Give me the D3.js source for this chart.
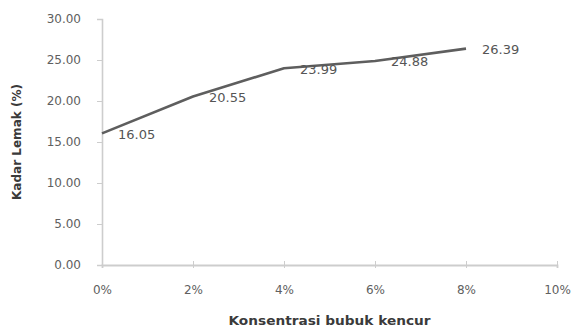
<!DOCTYPE html>
<html>
<head>
<meta charset="utf-8">
<script src="https://cdn.jsdelivr.net/npm/d3@7"></script>
<style>
  html, body { margin: 0; padding: 0; background: #fff; }
  svg { display: block; }
  text { font-family: "DejaVu Sans", sans-serif; }
</style>
</head>
<body>
<svg id="chart" width="573" height="327"></svg>
<script>
// Fat content (%) versus concentration of kencur powder
const concentrations = [0, 0.02, 0.04, 0.06, 0.08];
const fatValues = [16.05, 20.55, 23.99, 24.88, 26.39];
const xTickValues = [0, 0.02, 0.04, 0.06, 0.08, 0.10];
const yTickValues = [0, 5, 10, 15, 20, 25, 30];
const xTitle = "Konsentrasi bubuk kencur";
const yTitle = "Kadar Lemak (%)";

const svg = d3.select("#chart");
const margin = { left: 102, right: 16, top: 19, bottom: 62 };
const W = 573, H = 327;

const x = d3.scaleLinear().domain([0, 0.10]).range([margin.left, W - margin.right]);
const y = d3.scaleLinear().domain([0, 30]).range([H - margin.bottom, margin.top]);

const axisColor = "#cdcdcd";
const tickTextColor = "#606060";

// Y axis
const yAxis = svg.append("g")
  .attr("transform", `translate(${margin.left},0)`)
  .call(d3.axisLeft(y).tickValues(yTickValues).tickFormat(d3.format(".2f")).tickSize(5).tickPadding(16));
yAxis.select(".domain").attr("stroke", axisColor).attr("stroke-width", 1.6);
yAxis.selectAll(".tick line").attr("stroke", axisColor);
yAxis.selectAll(".tick text").attr("fill", tickTextColor).style("font-size", "12px");

// X axis
const xAxis = svg.append("g")
  .attr("transform", `translate(0,${y(0)})`)
  .call(d3.axisBottom(x).tickValues(xTickValues).tickFormat(d3.format(".0%")).tickSize(3).tickPadding(17));
xAxis.select(".domain").attr("stroke", axisColor).attr("stroke-width", 1.8);
xAxis.selectAll(".tick line").attr("stroke", axisColor).attr("y1", -4).attr("y2", 3);
xAxis.selectAll(".tick text").attr("fill", tickTextColor).style("font-size", "12px");

// Data line
const points = concentrations.map((c, i) => ({ c, v: fatValues[i] }));
svg.append("path")
  .datum(points)
  .attr("fill", "none")
  .attr("stroke", "#5e5e5e")
  .attr("stroke-width", 2.6)
  .attr("stroke-linejoin", "round")
  .attr("d", d3.line().x(d => x(d.c)).y(d => y(d.v)));

// Value labels to the right of each point
svg.append("g").selectAll("text")
  .data(points)
  .join("text")
  .attr("x", d => x(d.c) + 16)
  .attr("y", d => y(d.v) + 2)
  .attr("dominant-baseline", "middle")
  .attr("fill", "#555")
  .style("font-size", "13px")
  .text(d => d.v.toFixed(2));

// Axis titles
svg.append("text")
  .attr("x", (x(0) + x(0.10)) / 2)
  .attr("y", 325)
  .attr("text-anchor", "middle")
  .attr("fill", "#3a3a3a")
  .style("font-size", "12px")
  .style("font-weight", "bold")
  .attr("textLength", 202)
  .attr("lengthAdjust", "spacingAndGlyphs")
  .text(xTitle);

svg.append("text")
  .attr("transform", `translate(21,${(y(0) + y(30)) / 2}) rotate(-90)`)
  .attr("text-anchor", "middle")
  .attr("fill", "#3a3a3a")
  .style("font-size", "11.5px")
  .style("font-weight", "bold")
  .attr("textLength", 116)
  .attr("lengthAdjust", "spacingAndGlyphs")
  .text(yTitle);
</script>
</body>
</html>
